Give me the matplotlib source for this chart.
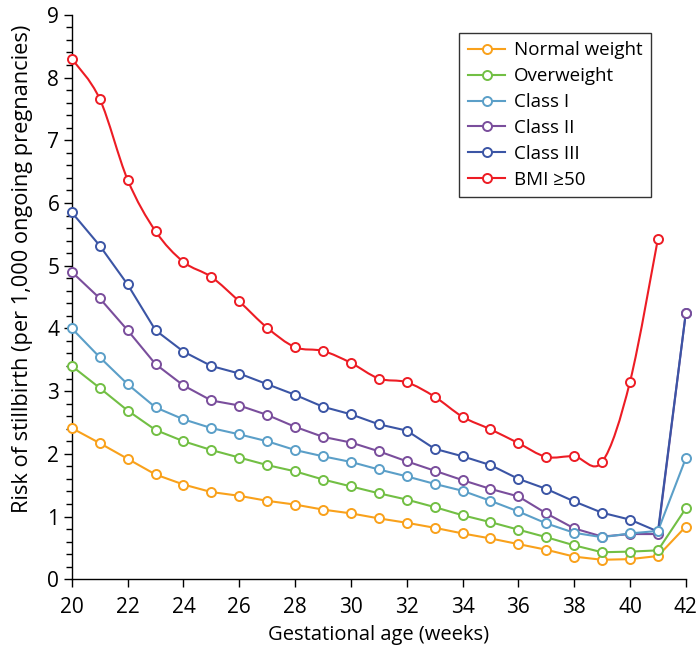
import numpy as np
import matplotlib
matplotlib.use("Agg")
from matplotlib import pyplot as plt
from matplotlib.path import Path
from matplotlib.patches import PathPatch
from matplotlib.lines import Line2D
from matplotlib.ticker import MultipleLocator

plt.rcParams['font.family'] = ['Open Sans', 'DejaVu Sans']

weeks = list(range(20, 43))

normal_weight = [2.41, 2.17, 1.92, 1.67, 1.51, 1.39, 1.33, 1.25, 1.19, 1.11, 1.05,
                 0.97, 0.90, 0.82, 0.73, 0.65, 0.56, 0.47, 0.36, 0.31, 0.32, 0.37, 0.84]
overweight = [3.40, 3.05, 2.69, 2.38, 2.20, 2.06, 1.94, 1.82, 1.72, 1.59, 1.48,
              1.37, 1.27, 1.15, 1.02, 0.91, 0.79, 0.67, 0.54, 0.43, 0.44, 0.46, 1.13]
class_1 = [4.00, 3.54, 3.11, 2.74, 2.55, 2.41, 2.31, 2.20, 2.06, 1.96, 1.87,
           1.75, 1.64, 1.52, 1.41, 1.25, 1.08, 0.89, 0.74, 0.67, 0.73, 0.77, 1.93]
class_2 = [4.90, 4.48, 3.97, 3.43, 3.09, 2.85, 2.77, 2.62, 2.43, 2.27, 2.18,
           2.04, 1.88, 1.73, 1.58, 1.44, 1.32, 1.05, 0.81, 0.68, 0.72, 0.72, 4.25]
class_3 = [5.85, 5.32, 4.70, 3.97, 3.63, 3.40, 3.28, 3.11, 2.94, 2.75, 2.63,
           2.47, 2.37, 2.08, 1.96, 1.82, 1.60, 1.44, 1.24, 1.06, 0.95, 0.76, 4.25]
bmi_50 = [8.30, 7.66, 6.37, 5.55, 5.06, 4.82, 4.43, 4.01, 3.70, 3.64, 3.45,
          3.20, 3.14, 2.91, 2.59, 2.39, 2.17, 1.95, 1.96, 1.87, 3.15, 5.43]

series = [
    ("Normal weight", normal_weight, "#F9A11B"),
    ("Overweight", overweight, "#72BF44"),
    ("Class I", class_1, "#5B9FC8"),
    ("Class II", class_2, "#7A4E9C"),
    ("Class III", class_3, "#3B55A5"),
    ("BMI \u226550", bmi_50, "#ED1C24"),
]


def smooth_path(x, y):
    # Catmull-Rom style bezier through the points (like a spreadsheet "smoothed line")
    pts = np.column_stack([x, y]).astype(float)
    n = len(pts)
    verts = [pts[0]]
    codes = [Path.MOVETO]
    for i in range(n - 1):
        p0 = pts[max(i - 1, 0)]
        p1 = pts[i]
        p2 = pts[i + 1]
        p3 = pts[min(i + 2, n - 1)]
        c1 = p1 + (p2 - p0) / 6.0
        c2 = p2 - (p3 - p1) / 6.0
        verts += [c1, c2, p2]
        codes += [Path.CURVE4] * 3
    return Path(verts, codes)


fig = plt.figure(figsize=(6.97, 6.45), dpi=100)
ax = fig.add_axes([0.103, 0.102, 0.881, 0.875])

lw = 1.5
# lines first, then markers so the purple marker sits on top at 42
for i, (name, vals, color) in enumerate(series):
    x = weeks[:len(vals)]
    z = 1.9 if name == "Class II" else 2 + i * 0.1
    if name.startswith("BMI"):
        patch = PathPatch(smooth_path(x, vals), facecolor='none', edgecolor=color,
                          lw=lw, zorder=z, joinstyle='round')
        ax.add_patch(patch)
    else:
        ax.plot(x, vals, color=color, lw=lw, zorder=z, solid_joinstyle='round')

marker_order = ["Normal weight", "Overweight", "Class III", "Class II", "Class I", "BMI \u226550"]
lookup = {s[0]: s for s in series}
for j, name in enumerate(marker_order):
    _, vals, color = lookup[name]
    x = weeks[:len(vals)]
    ax.plot(x, vals, linestyle='none', marker='o', ms=6.5, mew=1.4,
            mec=color, mfc='white', zorder=5 + j * 0.1, clip_on=False)

handles = [Line2D([], [], color=c, lw=lw, marker='o', ms=6.5, mew=1.4, mfc='white', mec=c)
           for _, _, c in series]
leg = ax.legend(handles, [s[0] for s in series], loc='upper right',
                bbox_to_anchor=(0.943, 0.968), borderaxespad=0, fontsize=13.5,
                frameon=True, fancybox=False, edgecolor='black', handlelength=2.0,
                handletextpad=0.45, labelspacing=0.42, borderpad=0.45)
leg.get_frame().set_linewidth(1.0)

ax.set_xlim(20, 42)
ax.set_ylim(0, 9)
ax.xaxis.set_major_locator(MultipleLocator(2))
ax.yaxis.set_major_locator(MultipleLocator(1))
ax.yaxis.set_minor_locator(MultipleLocator(0.2))

for side in ['top', 'right']:
    ax.spines[side].set_visible(False)
for side in ['left', 'bottom']:
    ax.spines[side].set_linewidth(1.0)

ax.tick_params(axis='both', which='major', direction='out', length=6, width=1,
               labelsize=15, pad=3)
ax.tick_params(axis='x', which='major', pad=7)
ax.tick_params(axis='y', which='minor', direction='out', length=4, width=1)

ax.set_xlabel("Gestational age (weeks)", fontsize=14.5, labelpad=5)
ax.set_ylabel("Risk of stillbirth (per 1,000 ongoing pregnancies)", fontsize=15.7)
ax.yaxis.set_label_coords(-0.063, 0.55)

fig.savefig("out.png", dpi=100)
